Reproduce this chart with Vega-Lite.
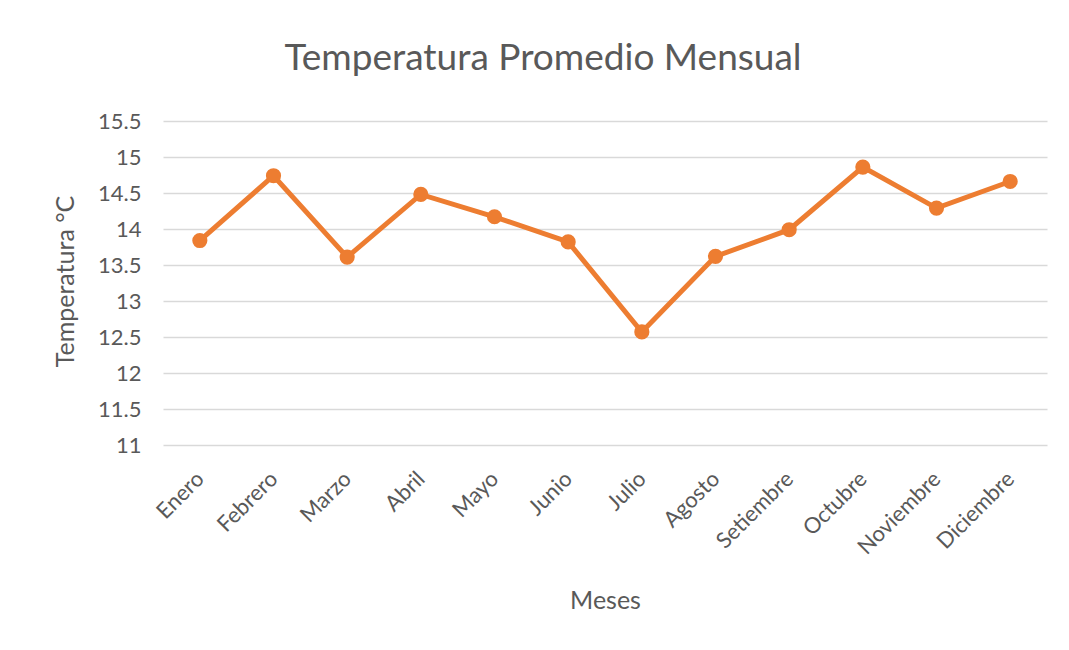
{
  "$schema": "https://vega.github.io/schema/vega-lite/v6.json",
  "width": 884,
  "height": 324,
  "autosize": "none",
  "padding": {"left": 163, "top": 121, "right": 22, "bottom": 206},
  "background": "white",
  "title": {
    "text": "Temperatura  Promedio Mensual",
    "font": "Lato",
    "fontSize": 37,
    "fontWeight": "normal",
    "color": "#595959",
    "anchor": "middle",
    "dx": -62,
    "offset": 32
  },
  "data": {
    "values": [
      {"mes": "Enero", "temp": 13.84},
      {"mes": "Febrero", "temp": 14.74},
      {"mes": "Marzo", "temp": 13.61},
      {"mes": "Abril", "temp": 14.48},
      {"mes": "Mayo", "temp": 14.17},
      {"mes": "Junio", "temp": 13.82},
      {"mes": "Julio", "temp": 12.57},
      {"mes": "Agosto", "temp": 13.62},
      {"mes": "Setiembre", "temp": 13.99},
      {"mes": "Octubre", "temp": 14.86},
      {"mes": "Noviembre", "temp": 14.29},
      {"mes": "Diciembre", "temp": 14.66}
    ]
  },
  "encoding": {
    "x": {
      "field": "mes",
      "type": "ordinal",
      "sort": null,
      "scale": {"type": "point", "padding": 0.5},
      "axis": {
        "title": "Meses",
        "labelAngle": -45,
        "labelAlign": "right",
        "labelBaseline": "middle",
        "labelPadding": 30,
        "ticks": false,
        "domain": false,
        "grid": false,
        "titleY": 143
      }
    },
    "y": {
      "field": "temp",
      "type": "quantitative",
      "scale": {"domain": [11, 15.5], "nice": false, "zero": false},
      "axis": {
        "title": "Temperatura °C",
        "values": [11, 11.5, 12, 12.5, 13, 13.5, 14, 14.5, 15, 15.5],
        "format": "~g",
        "ticks": false,
        "domain": false,
        "labelPadding": 22,
        "titleX": -98,
        "titleY": 160,
        "titleAlign": "center",
        "titleBaseline": "middle"
      }
    }
  },
  "layer": [
    {"mark": {"type": "line", "color": "#ED7D31", "strokeWidth": 5}},
    {"mark": {"type": "point", "filled": true, "color": "#ED7D31", "opacity": 1, "size": 230}}
  ],
  "config": {
    "view": {"stroke": null},
    "axis": {
      "labelFont": "Lato",
      "labelFontSize": 22,
      "labelColor": "#595959",
      "titleFont": "Lato",
      "titleFontSize": 25,
      "titleFontWeight": "normal",
      "titleColor": "#595959",
      "gridColor": "#D9D9D9",
      "gridWidth": 1.3
    }
  }
}
